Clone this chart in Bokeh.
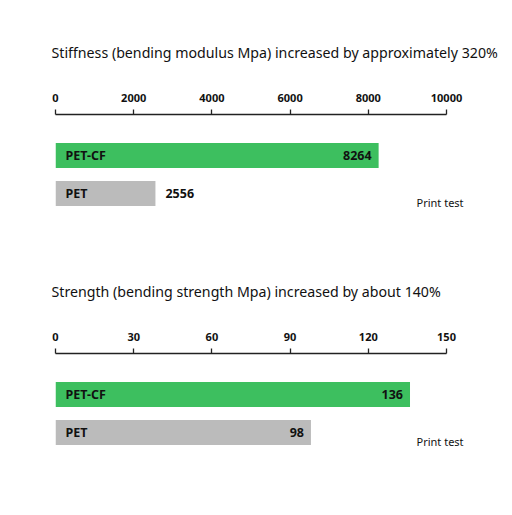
from bokeh.embed import file_html
from bokeh.layouts import column
from bokeh.models import FixedTicker, Range1d, Title, Label, ColumnDataSource
from bokeh.plotting import figure
from bokeh.resources import INLINE
from bokeh.core.properties import value

materials = ["PET-CF", "PET"]
colors = ["#3dbf5f", "#bbbbbb"]

stiffness_title = "Stiffness (bending modulus Mpa) increased by approximately 320%"
stiffness_ticks = [0, 2000, 4000, 6000, 8000, 10000]
stiffness_values = [8264, 2556]

strength_title = "Strength (bending strength Mpa) increased by about 140%"
strength_ticks = [0, 30, 60, 90, 120, 150]
strength_values = [136, 98]

note = "Print test"

FONT = "Noto Sans"
W, H = 504, 239
LEFT, RIGHT, TOP = 55, 8, 114
AXIS_PX = 391  # pixel length of the axis from 0 to the last tick
ROW_PX = 38


def make_chart(title, ticks, values):
    frame_w = W - LEFT - RIGHT
    frame_h = H - TOP
    x_end = ticks[-1] * frame_w / AXIS_PX
    y_top = 1 + 41 / ROW_PX
    p = figure(width=W, height=H, output_backend="svg", toolbar_location=None,
               x_range=Range1d(0, x_end), y_range=Range1d(y_top - frame_h / ROW_PX, y_top),
               x_axis_location="above", min_border_left=LEFT, min_border_right=RIGHT,
               min_border_top=TOP, min_border_bottom=0)
    p.outline_line_color = None
    p.grid.visible = False
    p.yaxis.visible = False

    t = Title(text=title, align="left", offset=-4, standoff=57,
              text_font=FONT, text_font_size="14.2px", text_font_style="normal",
              text_color="#111111")
    p.add_layout(t, "above")

    ax = p.xaxis[0]
    ax.ticker = FixedTicker(ticks=ticks)
    ax.bounds = (ticks[0], ticks[-1])
    ax.major_tick_in = 0
    ax.major_tick_out = 5
    ax.minor_tick_line_color = None
    ax.axis_line_color = "#222222"
    ax.major_tick_line_color = "#222222"
    ax.axis_line_width = 1.3
    ax.major_tick_line_width = 1.3
    ax.major_label_text_font = FONT
    ax.major_label_text_font_size = "11px"
    ax.major_label_text_font_style = "bold"
    ax.major_label_text_color = "#111111"
    ax.major_label_standoff = 8

    ys = list(range(len(values) - 1, -1, -1))
    src = ColumnDataSource(dict(y=ys, v=values, name=materials, color=colors))
    p.hbar(y="y", left=0, right="v", height=25 / ROW_PX, fill_color="color",
           line_color=None, source=src)

    p.text(x=0, y="y", text="name", x_offset=10, text_baseline="middle",
           text_font=value(FONT), text_font_size="12.5px", text_font_style="bold",
           text_color="#111111", source=src)

    # short bars get their value written after the bar, the others inside it
    inside = [v / ticks[-1] >= 0.3 for v in values]
    for flag, dx, align in [(True, -7, "right"), (False, 10, "left")]:
        sel = [i for i, f in enumerate(inside) if f == flag]
        part = ColumnDataSource(dict(y=[ys[i] for i in sel], v=[values[i] for i in sel],
                                     txt=[str(values[i]) for i in sel]))
        p.text(x="v", y="y", text="txt", x_offset=dx, text_align=align,
               text_baseline="middle", text_font=value(FONT), text_font_size="12.5px",
               text_font_style="bold", text_color="#111111", source=part)

    p.add_layout(Label(x=ticks[-1] * 361 / AXIS_PX, y=-9 / ROW_PX, text=note,
                       text_baseline="middle", text_font=FONT, text_font_size="11px",
                       text_color="#111111"))
    return p


top = make_chart(stiffness_title, stiffness_ticks, stiffness_values)
bottom = make_chart(strength_title, strength_ticks, strength_values)
layout = column(top, bottom, spacing=0)

open("out.html", "w").write(file_html(layout, INLINE))
